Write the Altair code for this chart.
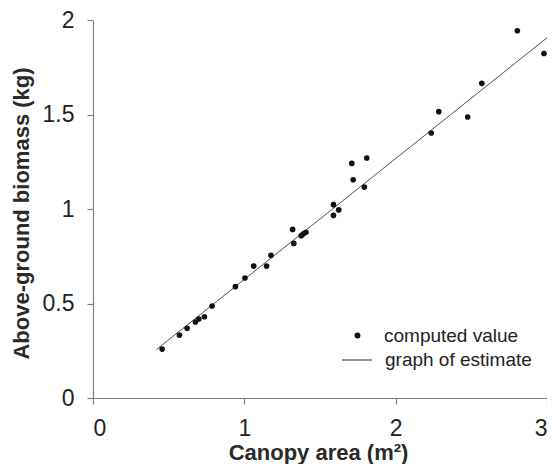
import altair as alt
import pandas as pd

# Data
canopy = [0.457, 0.571, 0.622, 0.677, 0.699, 0.736, 0.787, 0.941, 1.004, 1.062,
          1.147, 1.176, 1.319, 1.327, 1.376, 1.391, 1.407, 1.589, 1.589, 1.624,
          1.710, 1.719, 1.793, 1.809, 2.235, 2.285, 2.476, 2.569, 2.804, 2.980]
biomass = [0.259, 0.333, 0.369, 0.402, 0.418, 0.430, 0.487, 0.589, 0.635, 0.698,
           0.698, 0.755, 0.892, 0.818, 0.859, 0.869, 0.877, 1.023, 0.966, 0.995,
           1.241, 1.155, 1.116, 1.270, 1.402, 1.515, 1.487, 1.665, 1.943, 1.823]
est_x = [0.42, 3.0]
est_y = [0.257, 1.906]
point_label = "computed value"
line_label = "graph of estimate"
x_ticks = [0, 1, 2, 3]
y_ticks = [0, 0.5, 1, 1.5, 2]

pts = pd.DataFrame({"x": canopy, "y": biomass, "kind": point_label})
line = pd.DataFrame({"x": est_x, "y": est_y, "kind": line_label})

FONT = "Liberation Sans"

xenc = alt.X("x:Q", scale=alt.Scale(domain=[0, 3], nice=False),
             axis=alt.Axis(values=x_ticks, format="~g", title="Canopy area (m²)",
                           titleX=225, titleY=61, titleBaseline="alphabetic"))
yenc = alt.Y("y:Q", scale=alt.Scale(domain=[0, 2], nice=False),
             axis=alt.Axis(values=y_ticks, format="~g", title="Above-ground biomass (kg)",
                           titleX=-60, titleY=193))

common = dict(orient="none", title=None, padding=0, labelFont=FONT, labelFontSize=19,
              labelColor="#222222")

points = alt.Chart(pts).mark_point(filled=True, size=32, opacity=1).encode(
    x=xenc, y=yenc,
    color=alt.Color("kind:N", scale=alt.Scale(domain=[point_label], range=["#111111"]),
                    legend=alt.Legend(legendX=255, legendY=306, symbolSize=34,
                                      symbolType="circle", labelOffset=17, **common)),
)

est = alt.Chart(line).mark_line(color="#333333", strokeWidth=1).encode(
    x=xenc, y=yenc,
    strokeDash=alt.StrokeDash("kind:N", scale=alt.Scale(domain=[line_label], range=[[1, 0]]),
                              legend=alt.Legend(legendX=248, legendY=324, symbolSize=900,
                                                symbolType="stroke", symbolStrokeColor="#333333",
                                                symbolStrokeWidth=1.2, labelOffset=12, **common)),
)

chart = alt.layer(est, points).properties(
    width=454, height=378,
    autosize=alt.AutoSizeParams(type="none"),
    padding={"left": 85, "top": 12, "right": 0, "bottom": 66},
).configure_view(stroke=None).configure_axis(
    grid=False, domainColor="#808080", tickColor="#808080", domainWidth=1.2, tickWidth=1.2,
    tickSize=6, labelFont=FONT, labelFontSize=23, labelColor="#222222",
    titleFont=FONT, titleFontSize=22, titleFontWeight="bold", titleColor="#2a2a2a",
).configure_axisX(labelPadding=13).configure_axisY(labelPadding=13)

chart.save("out.html", embed_options={"renderer": "svg", "actions": False})
